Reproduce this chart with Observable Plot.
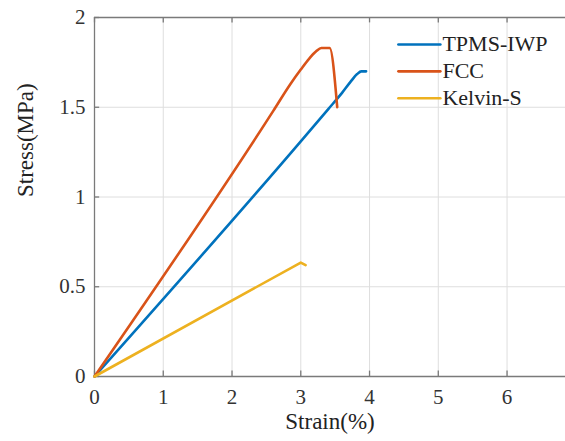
<!DOCTYPE html>
<html><head><meta charset="utf-8">
<script src="https://cdn.jsdelivr.net/npm/d3@7"></script>
<script src="https://cdn.jsdelivr.net/npm/@observablehq/plot@0.6"></script>
<style>
html,body{margin:0;padding:0;background:#fff;overflow:hidden;}
svg{display:block;}
</style>
</head><body>
<div id="chart"></div>
<script>
const seriesNames = ["TPMS-IWP", "FCC", "Kelvin-S"];
const seriesColors = ["#0072BD", "#D95319", "#EDB120"];
const tpmsStrain = [0, 3.0, 3.4, 3.6, 3.72, 3.82, 3.88, 3.95];
const tpmsStress = [0, 1.31, 1.49, 1.58, 1.64, 1.685, 1.70, 1.70];
const fccStrain = [0, 2.6, 2.85, 3.0, 3.12, 3.22, 3.3, 3.42, 3.53];
const fccStress = [0, 1.48, 1.63, 1.71, 1.77, 1.81, 1.83, 1.83, 1.50];
const kelvinStrain = [0, 3.0, 3.07];
const kelvinStress = [0, 0.635, 0.62];
const xTicks = [0, 1, 2, 3, 4, 5, 6];
const yTicks = [0, 0.5, 1, 1.5, 2];
const yTickLabels = ["0", "0.5", "1", "1.5", "2"];
const xLabel = "Strain(%)";
const yLabel = "Stress(MPa)";

const rows = [];
[[tpmsStrain, tpmsStress], [fccStrain, fccStress], [kelvinStrain, kelvinStress]].forEach(([xs, ys], i) => {
  xs.forEach((x, j) => rows.push({series: seriesNames[i], strain: x, stress: ys[j]}));
});

const xMax = 6.85;
const axisColor = "#7a7a7a";
const FONT = "Liberation Serif";

const legendRows = seriesNames.map((s, i) => ({series: s, i}));

const plot = Plot.plot({
  width: 565,
  height: 441,
  marginLeft: 94,
  marginRight: 0,
  marginTop: 17,
  marginBottom: 65,
  style: {background: "#fff", fontFamily: FONT},
  x: {domain: [0, xMax], ticks: xTicks},
  y: {domain: [0, 2], ticks: yTicks},
  color: {domain: seriesNames, range: seriesColors},
  marks: [
    Plot.ruleX(xTicks.filter(d => d > 0), {stroke: "#dedede", strokeWidth: 1}),
    Plot.ruleY(yTicks.filter(d => d > 0 && d < 2), {stroke: "#dedede", strokeWidth: 1}),
    Plot.ruleY([0], {stroke: axisColor, strokeWidth: 1.3}),
    Plot.ruleY([2], {stroke: axisColor, strokeWidth: 1.3}),
    Plot.ruleX([0], {stroke: axisColor, strokeWidth: 1.3}),
    Plot.ruleX(xTicks, {y1: 0, y2: 0.03, stroke: axisColor, strokeWidth: 1.3}),
    Plot.ruleX(xTicks, {y1: 2, y2: 1.97, stroke: axisColor, strokeWidth: 1.3}),
    Plot.ruleY(yTicks, {x1: 0, x2: 0.075, stroke: axisColor, strokeWidth: 1.3}),
    Plot.axisX({ticks: xTicks, tickSize: 0, tickPadding: 13, fontSize: 21, color: "#333", tickFormat: d => String(d), label: null}),
    Plot.axisY({ticks: yTicks, tickSize: 0, tickPadding: 9, fontSize: 21, color: "#333",
      tickFormat: (d, i) => yTickLabels[i], label: null}),
    Plot.text([xLabel], {frameAnchor: "bottom", dy: 52, fontSize: 23, fill: "#222", text: d => d}),
    Plot.text([yLabel], {frameAnchor: "left", dx: -69, rotate: -90, fontSize: 23, fill: "#222", text: d => d}),
    Plot.line(rows.filter(d => d.series !== "Kelvin-S"), {x: "strain", y: "stress", z: "series", stroke: "series", strokeWidth: 2.6, strokeLinejoin: "round", strokeLinecap: "round", curve: "monotone-x"}),
    Plot.line(rows.filter(d => d.series === "Kelvin-S"), {x: "strain", y: "stress", z: "series", stroke: "series", strokeWidth: 2.6, strokeLinejoin: "round", strokeLinecap: "round"}),
    Plot.line(legendRows.flatMap(d => [{...d, k: 0}, {...d, k: 1}]), {
      x: d => d.k === 0 ? 4.42 : 5.03,
      y: d => 1.85 - d.i * 0.15,
      z: "series", stroke: "series", strokeWidth: 2.6
    }),
    Plot.text(legendRows, {
      x: 5.06, y: d => 1.85 - d.i * 0.15, text: "series",
      textAnchor: "start", fill: "#222", fontSize: 22
    })
  ]
});
plot.setAttribute("font-family", FONT);
plot.querySelectorAll("g, text").forEach(t => {
  t.setAttribute("font-family", FONT);
  t.style.fontFamily = FONT;
});
document.getElementById("chart").appendChild(plot);
</script>
</body></html>
